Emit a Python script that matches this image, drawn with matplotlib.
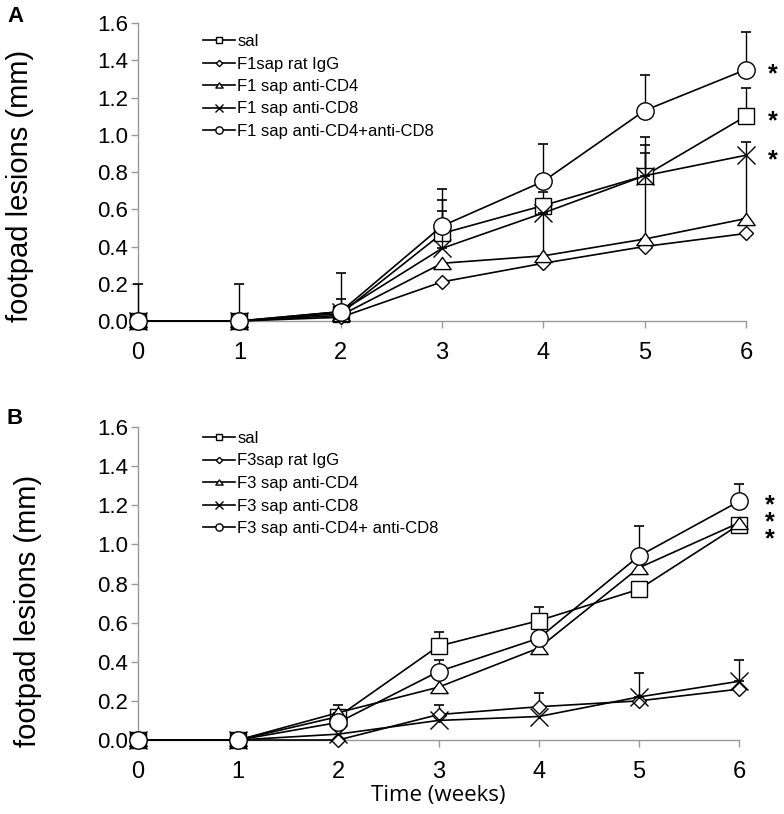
import numpy as np
import matplotlib
matplotlib.use("Agg")
import matplotlib.pyplot as plt
from matplotlib.path import Path

WEEKS = [0, 1, 2, 3, 4, 5, 6]

# panel A (F1)
A_LABELS = ["sal", "F1sap rat IgG", "F1 sap anti-CD4", "F1 sap anti-CD8",
            "F1 sap anti-CD4+anti-CD8"]
A_SAL = [0, 0, 0.04, 0.47, 0.62, 0.78, 1.10]
A_IGG = [0, 0, 0.02, 0.21, 0.31, 0.40, 0.47]
A_CD4 = [0, 0, 0.03, 0.31, 0.35, 0.44, 0.55]
A_CD8 = [0, 0, 0.05, 0.39, 0.58, 0.78, 0.89]
A_BOTH = [0, 0, 0.05, 0.51, 0.75, 1.13, 1.35]
A_SAL_ERR = [0, 0, 0.08, 0.18, 0.07, 0.21, 0.15]
A_IGG_ERR = [0, 0, 0, 0, 0, 0, 0]
A_CD4_ERR = [0, 0, 0, 0, 0.23, 0.46, 0.41]
A_CD8_ERR = [0, 0, 0, 0.20, 0, 0.165, 0]
A_BOTH_ERR = [0.20, 0.20, 0.21, 0.20, 0.20, 0.19, 0.20]

# panel B (F3)
B_LABELS = ["sal", "F3sap rat IgG", "F3 sap anti-CD4", "F3 sap anti-CD8",
            "F3 sap anti-CD4+ anti-CD8"]
B_SAL = [0, 0, 0.12, 0.48, 0.61, 0.77, 1.10]
B_IGG = [0, 0, 0.0, 0.13, 0.17, 0.20, 0.26]
B_CD4 = [0, 0, 0.14, 0.27, 0.47, 0.88, 1.11]
B_CD8 = [0, 0, 0.03, 0.10, 0.12, 0.22, 0.30]
B_BOTH = [0, 0, 0.09, 0.35, 0.52, 0.94, 1.22]
B_SAL_ERR = [0, 0, 0, 0.07, 0.07, 0, 0]
B_IGG_ERR = [0, 0, 0, 0.05, 0.07, 0, 0]
B_CD4_ERR = [0, 0, 0.04, 0, 0, 0, 0]
B_CD8_ERR = [0, 0, 0, 0, 0, 0.12, 0.11]
B_BOTH_ERR = [0, 0, 0, 0.06, 0, 0.155, 0.09]

Y_TICKS = [0.0, 0.2, 0.4, 0.6, 0.8, 1.0, 1.2, 1.4, 1.6]

FONT = "Liberation Sans"
GREY = "#999999"
TRI = Path([(0, 0.7), (-1, -0.7), (1, -0.7), (0, 0.7)], closed=True)
STYLES = [("s", 11), ("D", 7.6), (TRI, 12.5), ("x", 12.5), ("o", 12.5)]


def draw_panel(ax, values, errors, labels):
    handles = []
    for i, (y, err, (mk, ms)) in enumerate(zip(values, errors, STYLES)):
        x = np.array(WEEKS, dtype=float)
        y = np.array(y, dtype=float)
        err = np.array(err, dtype=float)
        keep = err > 0
        if keep.any():
            ax.errorbar(x[keep], y[keep], yerr=[np.zeros(keep.sum()), err[keep]],
                        fmt="none", ecolor="black", elinewidth=1.0, capsize=3.5,
                        capthick=1.2, zorder=2 + i, clip_on=False)
        line, = ax.plot(x, y, color="black", lw=1.2, marker=mk, ms=ms,
                        mfc="white", mec="black", mew=1.0, zorder=3 + i,
                        clip_on=False, label=labels[i])
        handles.append(line)
    ax.set_xlim(0, 6)
    ax.set_ylim(0, 1.6)
    ax.set_xticks(WEEKS)
    ax.set_xticklabels([str(w) for w in WEEKS], fontsize=17, family=FONT)
    ax.set_yticks(Y_TICKS)
    ax.set_yticklabels([f"{t:.1f}" for t in Y_TICKS], fontsize=16, family=FONT)
    for side in ("top", "right"):
        ax.spines[side].set_visible(False)
    for side in ("left", "bottom"):
        ax.spines[side].set_color(GREY)
        ax.spines[side].set_linewidth(1.0)
    ax.tick_params(axis="both", color=GREY, length=5, width=1.0)
    ax.tick_params(axis="y", pad=2)
    ax.tick_params(axis="x", pad=10)
    return handles


fig = plt.figure(figsize=(7.84, 8.14), dpi=100)
W, H = 784, 814
axA = fig.add_axes([138 / W, 1 - 321 / H, (746 - 138) / W, 298 / H])
axB = fig.add_axes([138 / W, 1 - 740 / H, (739 - 138) / W, 313 / H])

hA = draw_panel(axA, [A_SAL, A_IGG, A_CD4, A_CD8, A_BOTH],
                [A_SAL_ERR, A_IGG_ERR, A_CD4_ERR, A_CD8_ERR, A_BOTH_ERR], A_LABELS)
hB = draw_panel(axB, [B_SAL, B_IGG, B_CD4, B_CD8, B_BOTH],
                [B_SAL_ERR, B_IGG_ERR, B_CD4_ERR, B_CD8_ERR, B_BOTH_ERR], B_LABELS)

# significance stars
for y in (A_BOTH[-1], A_SAL[-1], A_CD8[-1]):
    axA.annotate("*", (6.26, y), xytext=(0, -8.5), textcoords="offset points",
                 ha="center", va="baseline", fontsize=18, fontweight="bold",
                 family=FONT, annotation_clip=False)
axB.annotate("*\n*\n*", (6.31, B_BOTH[-1] - 0.085), xytext=(0, -3.0),
             textcoords="offset points", ha="center", va="center",
             linespacing=0.63, fontsize=18, fontweight="bold", family=FONT,
             annotation_clip=False)

for ax, handles, top in ((axA, hA, 34), (axB, hB, 431)):
    ax.legend(handles=handles, loc="upper left", bbox_to_anchor=(203 / W, 1 - top / H),
              bbox_transform=fig.transFigure, frameon=False, borderpad=0,
              borderaxespad=0, handlelength=1.9, handletextpad=0.15,
              labelspacing=0.45, markerscale=0.42,
              prop={"family": FONT, "size": 12})

fig.text(20 / W, 1 - 186 / H, "footpad lesions (mm)", rotation=90, ha="center",
         va="center", fontsize=21, family=FONT)
fig.text(28 / W, 1 - 611 / H, "footpad lesions (mm)", rotation=90, ha="center",
         va="center", fontsize=21, family=FONT)
fig.text(438 / W, 1 - 796 / H, "Time (weeks)", ha="center", va="center",
         fontsize=16, family="Open Sans")
fig.text(16 / W, 1 - 16 / H, "A", ha="center", va="center", fontsize=16,
         fontweight="bold", family=FONT)
fig.text(15 / W, 1 - 418 / H, "B", ha="center", va="center", fontsize=16,
         fontweight="bold", family=FONT)

fig.savefig("out.png", dpi=100)
